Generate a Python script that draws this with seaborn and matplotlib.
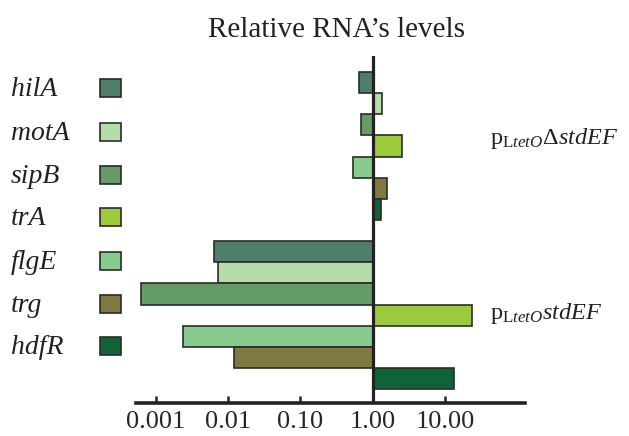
import numpy as np
import pandas as pd
import matplotlib
matplotlib.use("Agg")
import matplotlib.pyplot as plt
from matplotlib.patches import Rectangle
import seaborn as sns

# ---- data ----
genes = ["hilA", "motA", "sipB", "trA", "flgE", "trg", "hdfR"]
groups = ["delta", "wt"]
group_labels = [r"p$_{\mathrm{L}\mathit{tetO}}$Δ$\mathit{stdEF}$",
                r"p$_{\mathrm{L}\mathit{tetO}}$$\mathit{stdEF}$"]
delta_values = [0.64, 1.33, 0.68, 2.51, 0.53, 1.56, 1.29]
wt_values = [0.0064, 0.0073, 0.00063, 23.2, 0.0024, 0.012, 13.1]
tick_values = [0.001, 0.01, 0.1, 1, 10]
tick_labels = ["0.001", "0.01", "0.10", "1.00", "10.00"]
colors = ["#4e7d68", "#b5dca9", "#659b66", "#9bcb3c", "#87cb8d", "#7f793f", "#0e6435"]
title = "Relative RNA\u2019s levels"

# ---- build table ----
rows = []
for g, vals in zip(groups, [delta_values, wt_values]):
    for gene, v in zip(genes, vals):
        rows.append({"slot": f"{g}|{gene}", "gene": gene, "logval": np.log10(v)})
df = pd.DataFrame(rows)
order = [f"delta|{g}" for g in genes] + ["gap"] + [f"wt|{g}" for g in genes]
palette = dict(zip(genes, colors))

sns.set_style("white")
plt.rcParams["font.family"] = ["Liberation Serif", "DejaVu Serif"]
plt.rcParams["mathtext.fontset"] = "custom"
plt.rcParams["mathtext.rm"] = "Liberation Serif"
plt.rcParams["mathtext.it"] = "Liberation Serif:italic"

W, H = 629, 436
fig = plt.figure(figsize=(W / 100, H / 100), dpi=100)
ax = fig.add_axes([136 / W, 1 - 403 / H, (525 - 136) / W, (403 - 56) / H])

sns.barplot(data=df, x="logval", y="slot", hue="gene", order=order,
            hue_order=genes, palette=palette, dodge=False, width=1.0,
            edgecolor="#2b2b2b", linewidth=1.2, legend=False, ax=ax,
            orient="h", saturation=1)

ax.set_xlim(-3.27, 2.10)
ax.set_ylim(15.16, -1.257)
ax.axvline(0, color="#222222", lw=2.3, zorder=5)

ax.set_xticks(np.log10(tick_values))
ax.set_xticklabels(tick_labels, fontsize=19)
ax.tick_params(axis="x", direction="in", length=5, width=1.8, color="#222222",
               pad=6, bottom=True)
ax.set_yticks([])
ax.set_xlabel("")
ax.set_ylabel("")
for s in ["left", "top", "right"]:
    ax.spines[s].set_visible(False)
ax.spines["bottom"].set_linewidth(2.6)
ax.spines["bottom"].set_color("#222222")

# title
fig.text(336 / W, 1 - 30 / H, title, ha="center", va="center", fontsize=21,
         color="#222222")

# legend (manual, labels left-aligned, keys in a column)
centers = [88, 132, 175, 217, 261, 304, 346]
for gene, c, yc in zip(genes, colors, centers):
    fig.text(11 / W, 1 - (yc + 8) / H, gene, ha="left", va="baseline",
             fontsize=20, style="italic", color="#222222")
    fig.add_artist(Rectangle((100 / W, 1 - (yc + 9) / H), 21 / W, 18 / H,
                             transform=fig.transFigure, facecolor=c,
                             edgecolor="#2b2b2b", linewidth=1.2))

# group labels
fig.text(490 / W, 1 - 144 / H, group_labels[0], ha="left", va="baseline",
         fontsize=17.5, color="#222222")
fig.text(490 / W, 1 - 319 / H, group_labels[1], ha="left", va="baseline",
         fontsize=17.5, color="#222222")

fig.savefig("out.png", dpi=100)
